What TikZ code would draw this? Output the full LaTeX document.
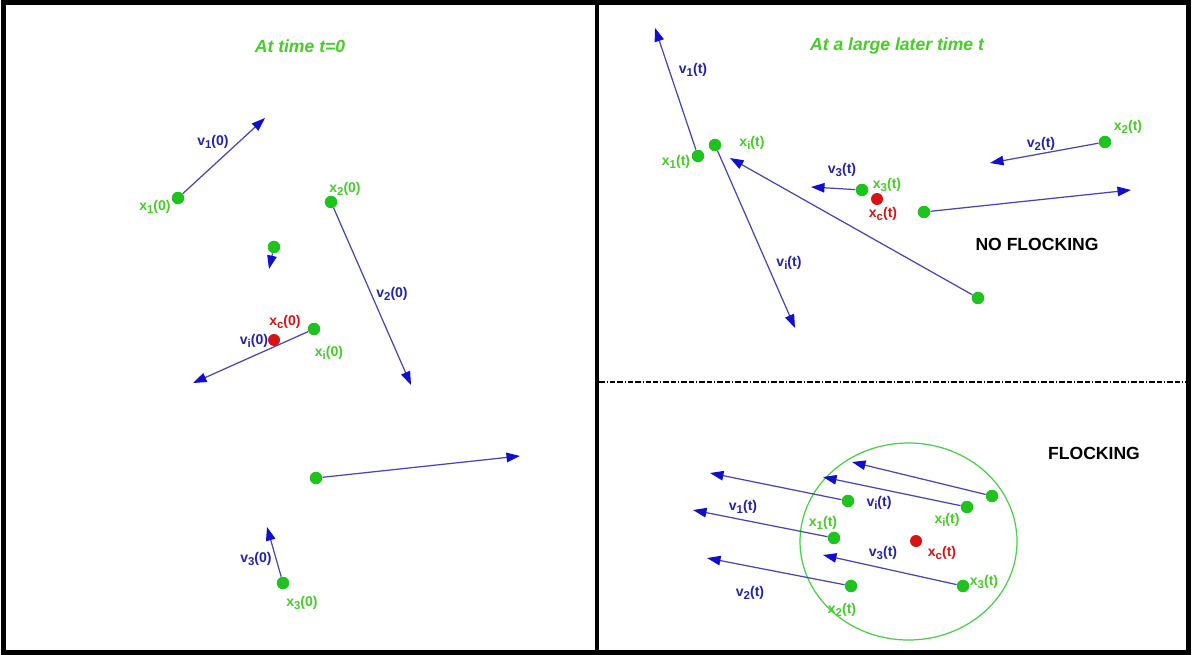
\documentclass[tikz,border=0pt]{standalone}
\usepackage{fontspec}
\setmainfont{Liberation Sans}
\usepackage{tikz}
\usetikzlibrary{arrows.meta}

\definecolor{dotgreen}{RGB}{30,195,30}
\definecolor{labgreen}{RGB}{70,205,40}
\definecolor{vecblue}{RGB}{70,70,175}
\definecolor{headblue}{RGB}{15,15,205}
\definecolor{labblue}{RGB}{35,35,170}
\definecolor{cmred}{RGB}{215,20,20}

\tikzset{
	agent/.style={circle,fill=dotgreen,inner sep=0pt,minimum size=0.25cm},
	cmdot/.style={circle,fill=cmred,inner sep=0pt,minimum size=0.24cm},
	vel/.style={vecblue,line width=0.7pt,-{Triangle[length=0.27cm,width=0.19cm,color=headblue]}},
	vlab/.style={text=labblue,font=\fontsize{8}{9}\selectfont\bfseries,inner sep=0pt},
	xlab/.style={text=labgreen,font=\fontsize{8}{9}\selectfont\bfseries,inner sep=0pt},
	clab/.style={text=cmred,font=\fontsize{8}{9}\selectfont\bfseries,inner sep=0pt},
	heading/.style={text=labgreen,font=\fontsize{10}{12}\selectfont\bfseries\itshape},
	regime/.style={text=black,font=\fontsize{10}{12}\selectfont\bfseries}
}
\newcommand{\sub}[1]{\raisebox{-0.45ex}{\fontsize{6.5}{7}\selectfont #1}}

\begin{document}
\begin{tikzpicture}[x=0.02cm,y=-0.02cm]
	\fill[white] (0,0) rectangle (1192,655);
	\useasboundingbox (0,0) rectangle (1192,655);

	% frame and panels
	\draw[line width=0.11cm] (3.5,2.5) rectangle (1188.5,652.5);
	\draw[line width=0.07cm] (597,0) -- (597,655);
	\draw[line width=0.055cm,dash pattern=on 0.11cm off 0.04cm on 0.02cm off 0.04cm on 0.11cm off 0.04cm] (599,382) -- (1186,382);

	% time t=0
	\node[heading] (title_a) at (300,46) {At time t=0};

	\node[agent] (x1_a) at (178,198) {};
	\coordinate (v1_a) at (265,118);
	\draw[vel] (x1_a) -- (v1_a);
	\node[vlab] at (213,142) {v\sub{1}(0)};
	\node[xlab] at (155,207) {x\sub{1}(0)};

	\node[agent] (x2_a) at (331,202) {};
	\coordinate (v2_a) at (411,385);
	\draw[vel] (x2_a) -- (v2_a);
	\node[xlab] at (345,189) {x\sub{2}(0)};
	\node[vlab] at (392,294) {v\sub{2}(0)};

	\node[agent] (x4_a) at (274,247) {};
	\coordinate (v4_a) at (269,269);
	\draw[vel] (x4_a) -- (v4_a);

	\node[agent] (xi_a) at (314,329) {};
	\coordinate (vi_a) at (193,383);
	\draw[vel] (xi_a) -- (vi_a);
	\node[xlab] at (329,353) {x\sub{i}(0)};
	\node[vlab] at (254,341) {v\sub{i}(0)};

	\node[cmdot] (xc_a) at (274,340) {};
	\node[clab] at (285,322) {x\sub{c}(0)};

	\node[agent] (x5_a) at (316,478) {};
	\coordinate (v5_a) at (520,456);
	\draw[vel] (x5_a) -- (v5_a);

	\node[agent] (x3_a) at (283,583) {};
	\coordinate (v3_a) at (267,527);
	\draw[vel] (x3_a) -- (v3_a);
	\node[vlab] at (256,559) {v\sub{3}(0)};
	\node[xlab] at (302,603) {x\sub{3}(0)};

	% large t, no flocking
	\node[heading] (title_b) at (897,46) {At a large later time t};
	\node[regime] (noflock) at (1037,244) {NO FLOCKING};

	\node[agent] (x1_b) at (698,156) {};
	\coordinate (v1_b) at (655,28);
	\draw[vel] (x1_b) -- (v1_b);
	\node[vlab] at (693,70) {v\sub{1}(t)};
	\node[xlab] at (676,162) {x\sub{1}(t)};

	\node[agent] (xi_b) at (715,145) {};
	\coordinate (vi_b) at (795,328);
	\draw[vel] (xi_b) -- (vi_b);
	\node[xlab] at (752,143) {x\sub{i}(t)};
	\node[vlab] at (789,263) {v\sub{i}(t)};

	\node[agent] (x4_b) at (978,298) {};
	\coordinate (v4_b) at (730,158);
	\draw[vel] (x4_b) -- (v4_b);

	\node[agent] (x3_b) at (862,190) {};
	\coordinate (v3_b) at (811,187);
	\draw[vel] (x3_b) -- (v3_b);
	\node[vlab] at (842,170) {v\sub{3}(t)};
	\node[xlab] at (887,185) {x\sub{3}(t)};

	\node[cmdot] (xc_b) at (877,199) {};
	\node[clab] at (883,214) {x\sub{c}(t)};

	\node[agent] (x2_b) at (1105,142) {};
	\coordinate (v2_b) at (990,163);
	\draw[vel] (x2_b) -- (v2_b);
	\node[vlab] at (1041,144) {v\sub{2}(t)};
	\node[xlab] at (1128,127) {x\sub{2}(t)};

	\node[agent] (x5_b) at (924,212) {};
	\coordinate (v5_b) at (1131,190);
	\draw[vel] (x5_b) -- (v5_b);

	% large t, flocking
	\node[regime] (flock) at (1094,453) {FLOCKING};
	\draw[dotgreen!80!white,line width=0.7pt] (908.5,541.5) ellipse [x radius=108.5, y radius=98.5];

	\node[agent] (xa_c) at (848,501) {};
	\coordinate (va_c) at (710,473);
	\draw[vel] (xa_c) -- (va_c);

	\node[agent] (xi_c) at (967,507) {};
	\coordinate (vi_c) at (823,477);
	\draw[vel] (xi_c) -- (vi_c);

	\node[agent] (xb_c) at (992,496) {};
	\coordinate (vb_c) at (852,462);
	\draw[vel] (xb_c) -- (vb_c);

	\node[agent] (x1_c) at (834,538) {};
	\coordinate (v1_c) at (693,510);
	\draw[vel] (x1_c) -- (v1_c);

	\node[agent] (x2_c) at (851,586) {};
	\coordinate (v2_c) at (707,558);
	\draw[vel] (x2_c) -- (v2_c);

	\node[agent] (x3_c) at (963,586) {};
	\coordinate (v3_c) at (823,555);
	\draw[vel] (x3_c) -- (v3_c);

	\node[cmdot] (xc_c) at (916,541) {};

	\node[vlab] at (743,507) {v\sub{1}(t)};
	\node[vlab] at (879,503) {v\sub{i}(t)};
	\node[xlab] at (947,520) {x\sub{i}(t)};
	\node[xlab] at (823,523) {x\sub{1}(t)};
	\node[vlab] at (883,553) {v\sub{3}(t)};
	\node[clab] at (942,553) {x\sub{c}(t)};
	\node[xlab] at (984,582) {x\sub{3}(t)};
	\node[vlab] at (750,593) {v\sub{2}(t)};
	\node[xlab] at (842,610) {x\sub{2}(t)};
\end{tikzpicture}
\end{document}
